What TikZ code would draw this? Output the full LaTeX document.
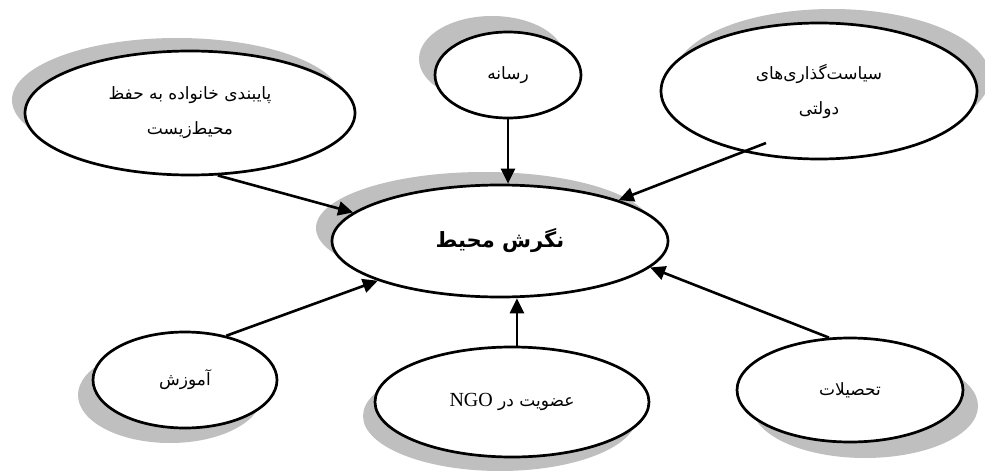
\documentclass[tikz,border=0pt]{standalone}
\usepackage{fontspec}
\usetikzlibrary{shapes.geometric,shadows,arrows.meta}
\newfontfamily\arabicfont[Script=Arabic]{DejaVu Sans}
\newfontfamily\latinfont{Liberation Serif}
\TeXXeTstate=1
\tikzset{oval/.style = {shape=ellipse,draw,line width=2.7pt,fill=white,inner sep=0pt,align=center,font=\arabicfont\fontsize{17}{35}\selectfont}}
\tikzset{halo/.style 2 args = {drop shadow={shadow xshift=#1,shadow yshift=#2,fill=black!25,opacity=1}}}
\tikzset{edge/.style = {->,> = {Triangle[length=15pt,width=14pt]},line width=2.6pt}}

\begin{document}
\begin{tikzpicture}[x=1pt,y=-1pt]
      \useasboundingbox (0,0) rectangle (985,471);
      \node[oval,halo={-13pt}{13pt},minimum width=330pt,minimum height=124pt] (family) at (190,113) {\beginR پایبندی خانواده به حفظ\endR\\\beginR محیط‌زیست\endR};
      \node[oval,halo={-16pt}{16pt},minimum width=146pt,minimum height=86pt] (media) at (508,75) {\beginR رسانه\endR};
      \node[oval,halo={13pt}{14pt},minimum width=316pt,minimum height=136pt] (policy) at (819,91) {\beginR سیاست‌گذاری‌های\endR\\\beginR دولتی\endR};
      \node[oval,halo={-16pt}{13pt},minimum width=336pt,minimum height=112pt,font=\arabicfont\bfseries\fontsize{21}{24}\selectfont] (view) at (500,241) {\beginR نگرش محیط\endR};
      \node[oval,halo={-15pt}{-15pt},minimum width=184pt,minimum height=96pt] (school) at (185,380) {\beginR آموزش\endR};
      \node[oval,halo={-12pt}{-14pt},minimum width=274pt,minimum height=110pt] (ngo) at (512,402) {\beginR عضویت در \beginL{\latinfont\fontsize{20}{22}\selectfont NGO}\endL\endR};
      \node[oval,halo={15pt}{-16pt},minimum width=226pt,minimum height=104pt] (degree) at (850,390) {\beginR تحصیلات\endR};
      \coordinate (policyfoot) at ([shift={(-53,52)}]policy.center);

      \draw[edge] (family.-66) to (view.169);
      \draw[edge] (media.south) to (media.south |- view.north);
      \draw[edge] (policyfoot) to (view.19);
      \draw[edge] (school.47) to (view.198);
      \draw[edge] (ngo.85) to (ngo.85 |- view.south);
      \draw[edge] (degree.112) to (view.-10);
    \end{tikzpicture}
\end{document}
